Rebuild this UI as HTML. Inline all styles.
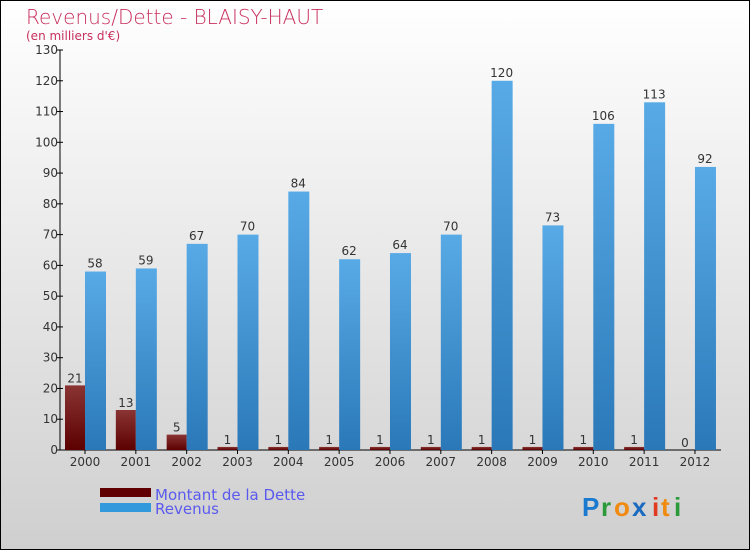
<!DOCTYPE html>
<html><head><meta charset="utf-8"><style>
body{margin:0;}
#c{width:750px;height:550px;position:relative;font-family:"DejaVu Sans","Liberation Sans",sans-serif;}
</style></head><body>
<div id="c">
<svg id="svg" width="750" height="550" xmlns="http://www.w3.org/2000/svg">
<defs>
<linearGradient id="bg" x1="0" y1="0" x2="0" y2="1"><stop offset="0" stop-color="#ffffff"/><stop offset="1" stop-color="#cfcfcf"/></linearGradient>
<linearGradient id="gd" x1="0" y1="0" x2="0" y2="1"><stop offset="0" stop-color="#8a3434"/><stop offset="1" stop-color="#5c0000"/></linearGradient>
<linearGradient id="gr" x1="0" y1="0" x2="1" y2="0"><stop offset="0" stop-color="#5aaee8"/><stop offset="1" stop-color="#3a8ccc"/></linearGradient>
<linearGradient id="grv" x1="0" y1="0" x2="0" y2="1"><stop offset="0" stop-color="#58aae6"/><stop offset="1" stop-color="#2a78b8"/></linearGradient>
</defs>
<rect x="0.5" y="0.5" width="749" height="549" fill="url(#bg)" stroke="#000"/>
<text x="26" y="24" font-size="20" fill="#c8305f" style="font-weight:200">Revenus/Dette - BLAISY-HAUT</text>
<text x="26" y="40" font-size="12" fill="#c8305f">(en milliers d'€)</text>
<g id="plot"></g>
<rect x="100" y="488" width="51" height="9" fill="#600000"/>
<rect x="100" y="503" width="51" height="9" fill="#3399dd"/>
<text x="155" y="500" font-size="15" fill="#5a5aee">Montant de la Dette</text>
<text x="155" y="514" font-size="15" fill="#5a5aee">Revenus</text>
<g font-size="26" font-family="Liberation Sans,sans-serif" font-weight="bold">
<text x="582" y="516" fill="#1a7ad0">P</text><text x="601" y="516" fill="#2a9a3a">r</text><text x="614" y="516" fill="#f08a10">o</text><text x="632" y="516" fill="#1a6ac0">x</text><text x="652" y="516" fill="#e03a20">i</text><text x="661" y="516" fill="#f08a10">t</text><text x="674" y="516" fill="#2a9a3a">i</text>
</g>
</svg>
</div>
<script>
const years=["2000","2001","2002","2003","2004","2005","2006","2007","2008","2009","2010","2011","2012"];
const dette=[21,13,5,1,1,1,1,1,1,1,1,1,0];
const revenus=[58,59,67,70,84,62,64,70,120,73,106,113,92];
const yTicks=[0,10,20,30,40,50,60,70,80,90,100,110,120,130];
const NS="http://www.w3.org/2000/svg";
const g=document.getElementById('plot');
const x0=60,y0=450,yTop=50,maxV=130,step=50.83,first=85,bw=20;
const y=v=>y0-(v/maxV)*(y0-yTop);
const xc=i=>first+i*step;
function mk(t,a,txt){const e=document.createElementNS(NS,t);for(const k in a)e.setAttribute(k,a[k]);if(txt!==undefined)e.textContent=txt;g.appendChild(e);return e;}
let e=mk('line',{x1:x0,y1:yTop,x2:x0,y2:y0,stroke:'#000'});


e=mk('line',{x1:x0,y1:y0,x2:721,y2:y0,stroke:'#000'});


yTicks.forEach(v=>{
 e=mk('line',{x1:x0-3,y1:y(v),x2:x0+3,y2:y(v),stroke:'#000'});
 
 
 e=mk('text',{x:x0-2,y:y(v)+4,'font-size':12,'text-anchor':'end',fill:'#333'},v);
 
 
});
years.forEach((yr,i)=>{
 const c=xc(i);
 e=mk('line',{x1:c,y1:y0,x2:c,y2:y0+4,stroke:'#000'});
 
 
 e=mk('text',{x:c,y:y0+16,'font-size':12,'text-anchor':'middle',fill:'#333'},yr);
 
 
 const d=dette[i];
 e=mk('rect',{x:c-bw,y:y(d),width:bw,height:y0-y(d),fill:'url(#gd)'});
 
 
 e=mk('text',{x:c-bw/2,y:y(d)-3,'font-size':12,'text-anchor':'middle',fill:'#333'},d);
 
 
 const r=revenus[i];
 e=mk('rect',{x:c,y:y(r),width:bw+1,height:y0-y(r),fill:'url(#grv)'});
 
 
 e=mk('text',{x:c+bw/2,y:y(r)-4,'font-size':12,'text-anchor':'middle',fill:'#333'},r);
 
 
});
</script>
</body></html>
